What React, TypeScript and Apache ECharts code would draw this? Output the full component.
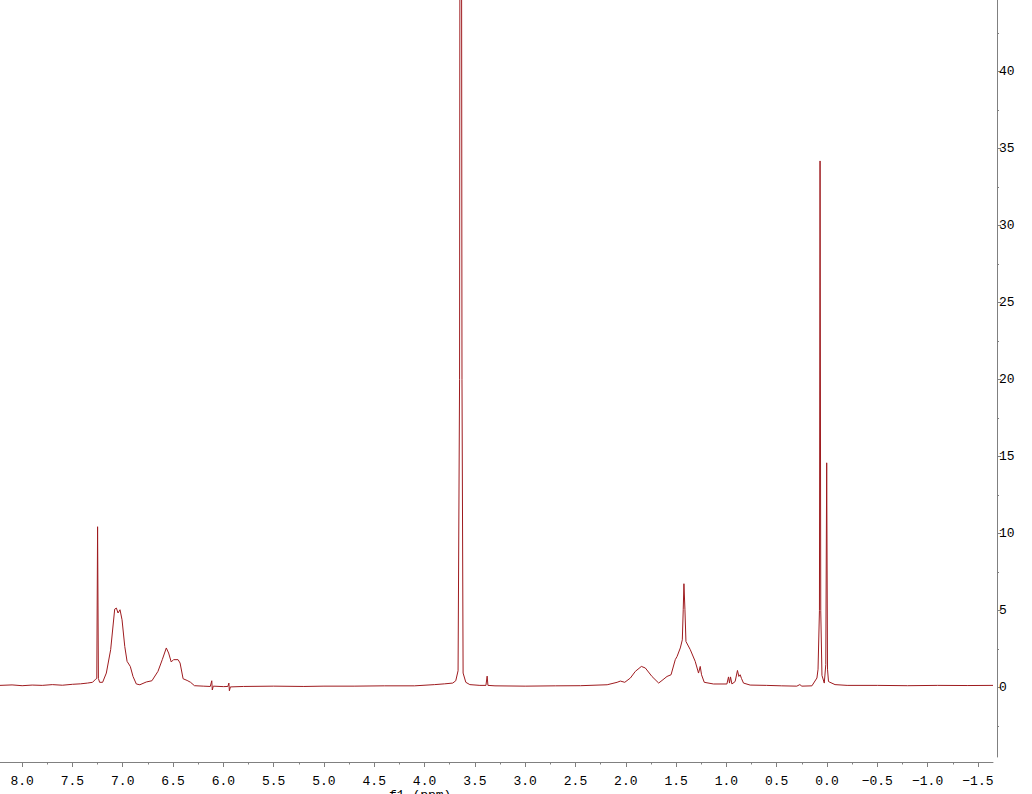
import React, { useEffect, useRef } from "react";
import * as echarts from "echarts";

// Chemical shift (ppm) and intensity pairs
const shifts: number[] = [
  8.22, 8.1, 8.0, 7.9, 7.8, 7.7, 7.6, 7.5, 7.42, 7.35, 7.3, 7.27, 7.258, 7.25, 7.242, 7.23,
  7.2, 7.163, 7.12, 7.08, 7.063, 7.047, 7.027, 7.007, 6.98, 6.957, 6.925, 6.898, 6.865, 6.83,
  6.766, 6.71, 6.65, 6.607, 6.567, 6.544, 6.518, 6.495, 6.45, 6.43, 6.4, 6.36, 6.326, 6.287,
  6.2, 6.13, 6.115, 6.11, 6.1, 6.0, 5.955, 5.945, 5.94, 5.93, 5.8, 5.5, 5.2, 5.0, 4.7, 4.4,
  4.1, 3.9, 3.8, 3.72, 3.69, 3.667, 3.652, 3.645, 3.637, 3.628, 3.617, 3.59, 3.55, 3.45, 3.39,
  3.378, 3.37, 3.3, 3.0, 2.7, 2.45, 2.185, 2.086, 2.054, 2.01, 1.954, 1.905, 1.845, 1.806,
  1.74, 1.673, 1.63, 1.59, 1.55, 1.508, 1.49, 1.458, 1.438, 1.429, 1.422, 1.412, 1.402,
  1.359, 1.31, 1.277, 1.26, 1.247, 1.22, 1.128, 0.995, 0.979, 0.969, 0.959, 0.945, 0.913,
  0.89, 0.876, 0.863, 0.85, 0.83, 0.764, 0.6, 0.45, 0.3, 0.27, 0.25, 0.15, 0.1, 0.089,
  0.075, 0.069, 0.062, 0.05, 0.027, 0.012, 0.003, -0.005, -0.015, -0.03, -0.08, -0.2, -0.5,
  -0.8, -1.1, -1.4, -1.65,
];
const intensities: number[] = [
  0.15, 0.18, 0.13, 0.17, 0.15, 0.2, 0.16, 0.22, 0.25, 0.3, 0.35, 0.55, 0.6, 10.45, 0.6, 0.35,
  0.35, 0.95, 2.47, 5.1, 5.17, 4.85, 5.06, 4.41, 2.68, 1.71, 1.38, 0.73, 0.24, 0.19,
  0.37, 0.45, 1.06, 1.82, 2.58, 2.25, 1.67, 1.82, 1.82, 1.6, 0.58, 0.47, 0.35, 0.13,
  0.1, 0.08, 0.45, -0.15, 0.1, 0.07, 0.08, 0.3, -0.2, 0.05, 0.08, 0.1, 0.08, 0.1, 0.1, 0.12,
  0.12, 0.2, 0.25, 0.3, 0.45, 1.1, 20, 80, 80, 20, 0.95, 0.35, 0.2, 0.15, 0.15,
  0.75, 0.15, 0.12, 0.1, 0.12, 0.13, 0.19, 0.35, 0.43, 0.35, 0.63, 1.06, 1.38, 1.28,
  0.73, 0.3, 0.52, 0.73, 0.84, 1.82, 2.03, 2.58, 3.11, 5.06, 6.75, 5.06, 3.0,
  2.47, 1.71, 0.95, 1.38, 0.84, 0.35, 0.24, 0.24, 0.7, 0.3, 0.7, 0.24, 0.4,
  1.12, 0.73, 0.84, 0.6, 0.3, 0.17, 0.15, 0.12, 0.1, 0.2, 0.1, 0.12, 0.63, 1.2,
  5, 34.2, 5, 0.8, 0.3, 1.5, 14.6, 1.2, 0.4, 0.35, 0.2, 0.15, 0.15,
  0.13, 0.15, 0.14, 0.15,
];

const xMajorTicks: number[] = [8.0, 7.5, 7.0, 6.5, 6.0, 5.5, 5.0, 4.5, 4.0, 3.5, 3.0, 2.5, 2.0, 1.5, 1.0, 0.5, 0.0, -0.5, -1.0, -1.5];
const xMinorTicks: number[] = [7.75, 7.25, 6.75, 6.25, 5.75, 5.25, 4.75, 4.25, 3.75, 3.25, 2.75, 2.25, 1.75, 1.25, 0.75, 0.25, -0.25, -0.75, -1.25];
const yMajorTicks: number[] = [0, 5, 10, 15, 20, 25, 30, 35, 40];
const yMinorTicks: number[] = [-2.5, 2.5, 7.5, 12.5, 17.5, 22.5, 27.5, 32.5, 37.5, 42.5];

const LINE = "#9e1b1f";
const AXIS = "#808080";
const FONT = "Liberation Mono";

export default function App() {
  const ref = useRef<HTMLDivElement>(null);
  useEffect(() => {
    if (!ref.current) return;
    const chart = echarts.init(ref.current, null, { renderer: "svg" });
    const data = shifts.map((s, i) => [s, intensities[i]]);
    const fmtX = (v: number) => v.toFixed(1).replace("-", "\u2212");
    const xBase = {
      type: "value" as const,
      inverse: true,
      min: -1.65,
      max: 8.22,
      position: "bottom" as const,
      offset: 5,
      splitLine: { show: false },
    };
    const yBase = {
      type: "value" as const,
      min: -4.5,
      max: 44.65,
      position: "right" as const,
      offset: 4,
      splitLine: { show: false },
    };
    chart.setOption({
      animation: false,
      backgroundColor: "#ffffff",
      grid: { left: 0, right: 39, top: 0, bottom: 37, containLabel: false },
      xAxis: [
        {
          ...xBase,
          axisLine: { show: true, onZero: false, lineStyle: { color: AXIS, width: 1 } },
          axisTick: { show: true, length: 5, customValues: xMajorTicks, lineStyle: { color: AXIS } },
          axisLabel: {
            show: true,
            customValues: xMajorTicks,
            formatter: fmtX,
            color: "#000",
            fontFamily: FONT,
            fontSize: 13,
            margin: 13,
          },
        },
        {
          ...xBase,
          axisLine: { show: false, onZero: false },
          axisTick: { show: true, length: 2.5, customValues: xMinorTicks, lineStyle: { color: AXIS } },
          axisLabel: { show: false },
        },
      ],
      yAxis: [
        {
          ...yBase,
          axisLine: { show: true, onZero: false, lineStyle: { color: AXIS, width: 1 } },
          axisTick: { show: true, length: 4, customValues: yMajorTicks, lineStyle: { color: AXIS } },
          axisLabel: {
            show: true,
            customValues: yMajorTicks,
            color: "#000",
            fontFamily: FONT,
            fontSize: 13,
            margin: 2,
          },
        },
        {
          ...yBase,
          axisLine: { show: false, onZero: false },
          axisTick: { show: true, length: 2, customValues: yMinorTicks, lineStyle: { color: AXIS } },
          axisLabel: { show: false },
        },
      ],
      series: [
        {
          type: "line",
          data,
          xAxisIndex: 0,
          yAxisIndex: 0,
          showSymbol: false,
          symbol: "none",
          clip: true,
          lineStyle: { color: LINE, width: 1 },
        },
      ],
      graphic: [
        {
          type: "text",
          left: 389,
          top: 789,
          style: { text: "f1 (ppm)", font: `13px ${FONT}`, fill: "#000" },
        },
      ],
    });
    return () => chart.dispose();
  }, []);
  return <div ref={ref} style={{ width: 1032, height: 794, position: "absolute", left: 0, top: 0 }} />;
}
